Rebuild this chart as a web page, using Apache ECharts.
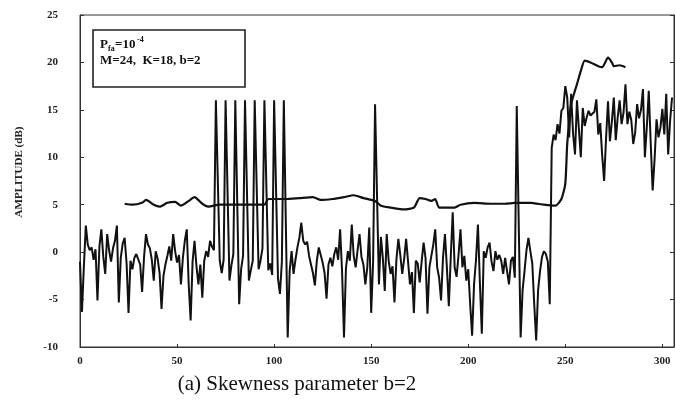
<!DOCTYPE html>
<html>
<head>
<meta charset="utf-8">
<title>CFAR detection, skewness parameter b=2</title>
<script src="https://cdn.jsdelivr.net/npm/echarts@6/dist/echarts.min.js"></script>
<style>
  html, body { margin: 0; padding: 0; background: #fff; }
  #chart { width: 676px; height: 403px; }
</style>
</head>
<body>
<div id="chart"></div>
<script>
// Received amplitude per range cell (dB), cells 0..305
const signalDb = [
  -1.0, -6.3, -1.5, 2.8, 0.8, 0.2, 0.5, -0.8, 0.3, -5.1,
  0.6, 2.4, -0.5, -2.3, 1.9, 0.2, -1.0, 0.4, 1.2, 2.8,
  -5.3, -0.6, 0.9, 1.5, -1.2, -6.4, -0.9, -1.8, -0.6, -0.2,
  -0.4, -1.3, -4.2, -0.5, 1.9, 0.8, 0.4, -0.8, -3.0, 0.1,
  -0.7, -2.2, -6.0, -2.5, -1.3, -0.4, 0.6, -0.9, 1.9, 0.1,
  -1.1, -0.3, -3.4, -0.6, 1.2, 2.4, -3.4, -7.2, -1.0, 1.2,
  -1.5, -3.4, -1.3, -4.8, -0.9, 0.1, -0.5, 1.2, 0.6, 0.2,
  16.0, 16.0, -0.9, -2.2, -0.8, 16.0, 16.0, -3.0, -1.4, -0.2,
  16.0, 16.0, -5.5, -1.8, -0.4, 16.0, 16.0, -3.0, -1.9, -0.9,
  16.0, 16.0, -1.8, -0.9, 0.4, 16.0, 16.0, -1.9, -1.2, -2.4,
  16.0, 16.0, -2.8, -4.4, -1.0, 16.0, 16.0, -9.0, -2.0, 0.1,
  -2.3, -0.8, 0.5, 1.5, 3.1, 1.2, 0.8, 1.1, -0.4, -1.3,
  -2.2, -3.5, -0.9, 0.5, -0.3, -1.1, -2.2, -4.9, -1.3, -0.6,
  -1.5, -0.2, 0.5, -0.8, 2.4, -2.0, -9.0, -1.7, 0.1, -0.9,
  2.9, -0.4, -1.6, 0.2, 1.9, -0.5, -1.3, -3.4, -1.6, 2.6,
  -6.4, -1.0, 15.6, 15.6, -3.4, 1.6, -0.6, -4.1, 1.9, -0.9,
  -2.3, -1.5, -5.3, -0.8, 1.4, -0.3, -2.3, -0.7, 1.4, -1.0,
  -3.4, -2.1, -6.4, -0.9, -1.2, -3.2, -1.0, 1.0, -0.6, -6.5,
  -1.6, -0.4, 0.8, 2.4, -1.6, -2.7, -5.1, -0.6, 1.9, -1.6,
  -5.7, -0.5, 4.2, -1.6, -2.6, -0.3, 2.4, -1.6, -0.4, -3.0,
  -1.8, -5.5, -8.8, -3.4, -0.8, 2.9, -3.2, -8.6, 0.1, -0.6,
  0.5, 1.0, -1.0, -2.0, 0.1, -0.8, -0.3, -0.9, -2.3, -0.6,
  -0.4, -3.4, -0.9, -0.5, -2.7, 15.4, 15.4, -9.0, -4.0, -2.0,
  0.2, 1.5, 0.1, -1.2, -5.5, -9.3, -4.0, -2.0, -0.5, 0.1,
  -0.2, -1.0, -5.5, 11.0, 12.4, 11.8, 13.5, 12.5, 14.9, 15.2,
  17.5, 16.3, 12.1, 16.7, 12.5, 10.3, 16.0, 13.0, 10.0, 15.2,
  13.3, 14.2, 14.9, 14.4, 14.6, 14.8, 16.1, 12.4, 13.6, 10.2,
  7.5, 12.0, 15.9, 11.7, 13.8, 16.3, 11.8, 14.2, 16.0, 13.5,
  14.7, 17.7, 13.5, 14.8, 13.9, 11.4, 12.6, 15.6, 14.1, 15.0,
  17.2, 10.0, 13.2, 17.0, 11.5, 6.5, 9.8, 14.0, 12.1, 13.1,
  15.1, 12.4, 16.7, 10.3, 13.9, 16.3
];

// Adaptive detection threshold (dB) at the listed range cells
const thresholdCells = [
  23, 27, 32, 34, 38, 41, 45, 49, 52, 56, 59, 63, 66, 72, 80, 89, 95, 97,
  106, 113, 120, 124, 130, 136, 141, 146, 152, 155, 160, 167, 172, 175,
  178, 181, 183, 185, 193, 196, 203, 212, 219, 224, 232, 239, 245, 248,
  250, 251, 253, 256, 258, 260, 263, 267, 269, 272, 274, 275, 278, 281
];
const thresholdDb = [
  5.1, 5.0, 5.2, 5.5, 5.0, 4.8, 5.2, 5.3, 4.9, 5.4, 5.8, 5.1, 4.8, 5.0, 5.0, 5.0, 5.0, 5.6,
  5.6, 5.7, 5.8, 5.5, 5.6, 5.8, 6.0, 5.7, 5.4, 4.9, 4.7, 4.5, 4.7, 5.7,
  5.6, 5.4, 5.6, 4.7, 4.7, 5.0, 5.2, 5.1, 5.1, 5.2, 5.2, 5.0, 4.9, 5.6,
  7.2, 11.4, 15.6, 17.7, 19.1, 20.2, 20.0, 19.6, 19.5, 20.5, 20.0, 19.6, 19.7, 19.5
];

const xTickValues = [0, 50, 100, 150, 200, 250, 300];
const yTickValues = [-10, -5, 0, 5, 10, 15, 20, 25];

const serif = '"Liberation Serif", "DejaVu Serif", serif';

const signalData = signalDb.map((v, i) => [i, v]);
const thresholdData = thresholdCells.map((c, i) => [c, thresholdDb[i]]);

const chart = echarts.init(document.getElementById('chart'), null, { renderer: 'canvas' });

chart.setOption({
  animation: false,
  backgroundColor: '#ffffff',
  grid: {
    left: 80, right: 2, top: 15, bottom: 56,
    show: true, borderColor: '#333', borderWidth: 1
  },
  xAxis: {
    type: 'value',
    min: 0, max: 306, interval: 50,
    axisLine: { show: true, onZero: false, lineStyle: { color: '#333', width: 1 } },
    axisTick: { show: true, inside: true, length: 3, lineStyle: { color: '#333' } },
    splitLine: { show: false },
    axisLabel: {
      margin: 9,
      fontFamily: serif, fontWeight: 'bold', fontSize: 11, color: '#222',
      showMaxLabel: false,
      formatter: v => (xTickValues.indexOf(v) >= 0 ? String(v) : '')
    }
  },
  yAxis: [
    {
      type: 'value',
      min: -10, max: 25, interval: 5,
      name: 'AMPLITUDE (dB)',
      nameLocation: 'middle',
      nameGap: 55,
      nameTextStyle: { fontFamily: serif, fontWeight: 'bold', fontSize: 11, color: '#222', padding: [0, 0, 0, 18] },
      axisLine: { show: true, onZero: false, lineStyle: { color: '#333', width: 1 } },
      axisTick: { show: true, inside: true, length: 4, lineStyle: { color: '#333' } },
      splitLine: { show: false },
      axisLabel: {
        margin: 22,
        fontFamily: serif, fontWeight: 'bold', fontSize: 11, color: '#222',
        formatter: v => (yTickValues.indexOf(v) >= 0 ? String(v) : '')
      }
    },
    {
      type: 'value',
      position: 'right',
      min: -10, max: 25, interval: 5,
      axisLine: { show: true, onZero: false, lineStyle: { color: '#333', width: 1 } },
      axisTick: { show: true, inside: true, length: 4, lineStyle: { color: '#333' } },
      splitLine: { show: false },
      axisLabel: { show: false }
    }
  ],
  series: [
    {
      name: 'signal',
      type: 'line',
      data: signalData,
      showSymbol: false,
      symbol: 'none',
      lineStyle: { color: '#111', width: 2 },
      z: 2
    },
    {
      name: 'threshold',
      type: 'line',
      data: thresholdData,
      showSymbol: false,
      symbol: 'none',
      smooth: 0.2,
      lineStyle: { color: '#111', width: 2.2 },
      z: 3
    }
  ],
  graphic: [
    {
      type: 'rect',
      shape: { x: 93, y: 30, width: 152, height: 57 },
      style: { fill: '#fff', stroke: '#222', lineWidth: 1.6 },
      z: 10
    },
    {
      type: 'text', x: 100, y: 45, z: 11,
      style: { text: 'P', fontFamily: serif, fontWeight: 'bold', fontSize: 13, fill: '#111', verticalAlign: 'middle' }
    },
    {
      type: 'text', x: 108, y: 49, z: 11,
      style: { text: 'fa', fontFamily: serif, fontWeight: 'bold', fontSize: 8, fill: '#111', verticalAlign: 'middle' }
    },
    {
      type: 'text', x: 115, y: 45, z: 11,
      style: { text: '=10', fontFamily: serif, fontWeight: 'bold', fontSize: 13, fill: '#111', verticalAlign: 'middle' }
    },
    {
      type: 'text', x: 137, y: 40, z: 11,
      style: { text: '-4', fontFamily: serif, fontWeight: 'bold', fontSize: 8, fill: '#111', verticalAlign: 'middle' }
    },
    {
      type: 'text', x: 100, y: 61, z: 11,
      style: { text: 'M=24,  K=18, b=2', fontFamily: serif, fontWeight: 'bold', fontSize: 13, fill: '#111', verticalAlign: 'middle' }
    },
    {
      type: 'text', x: 297, y: 384, z: 11,
      style: {
        text: '(a) Skewness parameter b=2',
        fontFamily: serif, fontSize: 21, fill: '#111',
        align: 'center', verticalAlign: 'middle'
      }
    }
  ]
});
</script>
</body>
</html>
